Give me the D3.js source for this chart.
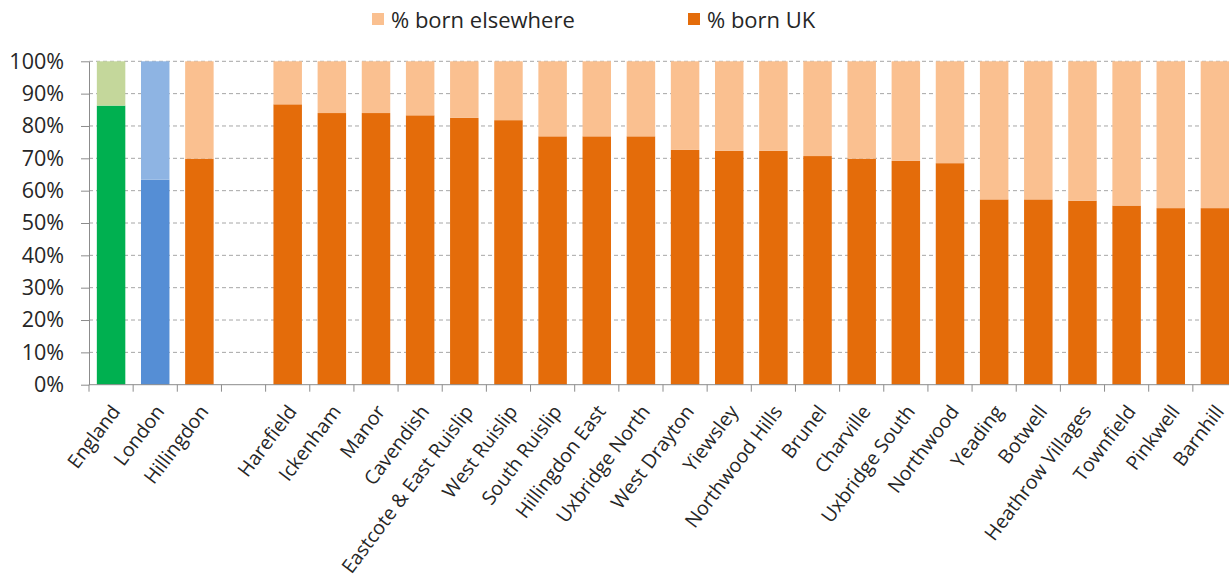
<!DOCTYPE html>
<html>
<head>
<meta charset="utf-8">
<script src="https://cdn.jsdelivr.net/npm/d3@7"></script>
<style>
  html, body { margin: 0; padding: 0; background: #fff; }
  svg { display: block; font-family: "Open Sans", Lato, sans-serif; }
</style>
</head>
<body>
<svg id="chart" width="1229" height="583"></svg>
<script>
// Areas shown along the x axis; the empty entry leaves a gap after the comparators
const categories = [
  "England", "London", "Hillingdon", "",
  "Harefield", "Ickenham", "Manor", "Cavendish", "Eastcote & East Ruislip",
  "West Ruislip", "South Ruislip", "Hillingdon East", "Uxbridge North",
  "West Drayton", "Yiewsley", "Northwood Hills", "Brunel", "Charville",
  "Uxbridge South", "Northwood", "Yeading", "Botwell", "Heathrow Villages",
  "Townfield", "Pinkwell", "Barnhill"
];

// Share of residents born in the UK (%); the gap slot has no value
const bornUK = [
  86.3, 63.4, 69.9, null,
  86.7, 84.0, 84.0, 83.3, 82.5,
  81.8, 76.8, 76.8, 76.8,
  72.6, 72.3, 72.3, 70.7, 69.9,
  69.2, 68.5, 57.3, 57.3, 56.9,
  55.4, 54.6, 54.6
];

// Share born elsewhere is the remainder of each bar
const bornElsewhere = bornUK.map(v => v == null ? null : 100 - v);

const yTicks = [0, 10, 20, 30, 40, 50, 60, 70, 80, 90, 100];
const seriesNames = ["% born elsewhere", "% born UK"];

// Fill colours: comparators get their own palette, wards share the orange one
const ukColour = d => d === "England" ? "#00b050" : d === "London" ? "#558ed5" : "#e46c0a";
const elseColour = d => d === "England" ? "#c4d79b" : d === "London" ? "#8eb4e3" : "#fac090";

const svg = d3.select("#chart");
const plotLeft = 89, plotRight = 1237, plotTop = 61.3, plotBottom = 384.7;
const textColour = "#262626";
const axisColour = "#8c8c8c";

const x = d3.scaleBand().domain(d3.range(categories.length)).range([plotLeft, plotRight])
  .paddingInner(0.355).paddingOuter(0.1775);
const y = d3.scaleLinear().domain([0, 100]).range([plotBottom, plotTop]);

// Dashed horizontal gridlines
svg.append("g").selectAll("line").data(yTicks.filter(t => t > 0)).join("line")
  .attr("x1", plotLeft).attr("x2", plotRight)
  .attr("y1", d => y(d)).attr("y2", d => y(d))
  .attr("stroke", "#a6a6a6").attr("stroke-width", 1)
  .attr("stroke-dasharray", "4,3");

const rows = categories.map((c, i) => ({ c, i, uk: bornUK[i], el: bornElsewhere[i] }))
  .filter(d => d.uk != null);

// Stacked bars: UK-born at the base, elsewhere on top
svg.append("g").selectAll("rect").data(rows).join("rect")
  .attr("x", d => x(d.i)).attr("width", x.bandwidth())
  .attr("y", d => y(d.uk)).attr("height", d => y(0) - y(d.uk))
  .attr("fill", d => ukColour(d.c));

svg.append("g").selectAll("rect").data(rows).join("rect")
  .attr("x", d => x(d.i)).attr("width", x.bandwidth())
  .attr("y", d => y(d.uk + d.el)).attr("height", d => y(d.uk) - y(d.uk + d.el))
  .attr("fill", d => elseColour(d.c));

// Y axis
const yAxis = svg.append("g").attr("transform", `translate(${plotLeft},0)`)
  .call(d3.axisLeft(y).tickValues(yTicks).tickFormat(d => d + "%").tickSizeInner(8).tickSizeOuter(0).tickPadding(17));
yAxis.select(".domain").attr("stroke", axisColour);
yAxis.selectAll(".tick line").attr("stroke", axisColour);
yAxis.selectAll(".tick text").attr("font-size", 21.5).attr("fill", textColour)
  .attr("font-family", "'Open Sans', Lato, sans-serif");

// X axis: tick marks sit on band boundaries
const xAxisG = svg.append("g");
xAxisG.append("line").attr("x1", plotLeft).attr("x2", plotRight)
  .attr("y1", plotBottom).attr("y2", plotBottom).attr("stroke", axisColour);
xAxisG.selectAll("line.tk").data(d3.range(categories.length + 1)).join("line")
  .attr("class", "tk")
  .attr("x1", i => plotLeft + i * x.step()).attr("x2", i => plotLeft + i * x.step())
  .attr("y1", plotBottom).attr("y2", plotBottom + 7).attr("stroke", axisColour);

// Category labels, rotated so each ends just under its bar
xAxisG.selectAll("text").data(rows).join("text")
  .attr("transform", d => `translate(${x(d.i) + x.bandwidth() / 2 + 10},${plotBottom + 27}) rotate(-53)`)
  .attr("text-anchor", "end")
  .attr("font-size", 19.5).attr("fill", textColour)
  .text(d => d.c);

// Legend
const legendX = [372, 688];
const legendColours = ["#fac090", "#e46c0a"];
const lg = svg.append("g").selectAll("g").data(seriesNames).join("g")
  .attr("transform", (d, i) => `translate(${legendX[i]},0)`);
lg.append("rect").attr("x", 0).attr("y", 13).attr("width", 12).attr("height", 12)
  .attr("fill", (d, i) => legendColours[i]);
lg.append("text").attr("x", 19).attr("y", 28).attr("font-size", 22).attr("fill", textColour)
  .text(d => d);
</script>
</body>
</html>
